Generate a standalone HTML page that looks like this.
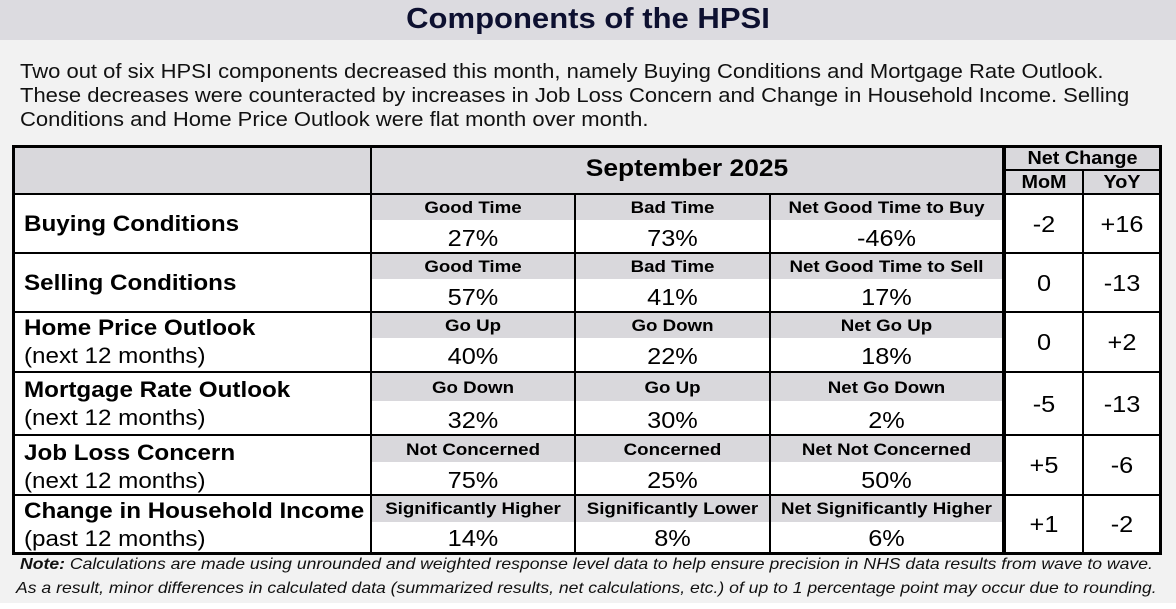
<!DOCTYPE html>
<html><head><meta charset="utf-8"><style>
body{margin:0;width:1176px;height:609px;background:#fff;font-family:"Liberation Sans",Arial,sans-serif;position:relative;overflow:hidden}
.a{position:absolute}
.bg{left:0;top:0;width:1176px;height:603px;background:#f2f2f2}
.tb{left:0;top:0;width:1176px;height:40px;background:#dcdbe0}
.t{left:0;top:3px;width:1176px;text-align:center;font-size:29px;font-weight:bold;color:#0d1030;transform:scaleX(1.07)}
.p{left:20px;top:60px;font-size:20px;line-height:24px;color:#111;transform:scaleX(1.1);transform-origin:left}
.h{background:#000}
.g{background:#d9d8dc}
.w{background:#fff}
.c{text-align:center;color:#000;transform:scaleX(1.1)}
.sl{font-size:17px;font-weight:bold;line-height:25px}
.v{font-size:23px;line-height:30px}
.lb{font-size:22px;font-weight:bold;left:24px;transform:scaleX(1.1);transform-origin:left}
.ls{font-size:22px;left:24px;transform:scaleX(1.1);transform-origin:left}
.n{font-size:16px;font-style:italic;left:20px;color:#111;transform:scaleX(1.1);transform-origin:left}
</style></head><body>
<div class="a bg"></div>
<div class="a tb"></div>
<div class="a t">Components of the HPSI</div>
<div class="a p">Two out of six HPSI components decreased this month, namely Buying Conditions and Mortgage Rate Outlook.<br>These decreases were counteracted by increases in Job Loss Concern and Change in Household Income. Selling<br>Conditions and Home Price Outlook were flat month over month.</div>

<div class="a w" style="left:12px;top:146px;width:1148px;height:407px"></div>
<div class="a g" style="left:12px;top:146px;width:1148px;height:48px"></div>
<div class="a g" style="left:371px;top:194px;width:632px;height:26px"></div>
<div class="a g" style="left:371px;top:253px;width:632px;height:26px"></div>
<div class="a g" style="left:371px;top:312px;width:632px;height:26px"></div>
<div class="a g" style="left:371px;top:372px;width:632px;height:29px"></div>
<div class="a g" style="left:371px;top:435px;width:632px;height:27px"></div>
<div class="a g" style="left:371px;top:495px;width:632px;height:27px"></div>

<div class="a h" style="left:12px;top:145px;width:1150px;height:3px"></div>
<div class="a h" style="left:12px;top:193px;width:1150px;height:2px"></div>
<div class="a h" style="left:12px;top:252px;width:1150px;height:2px"></div>
<div class="a h" style="left:12px;top:311px;width:1150px;height:2px"></div>
<div class="a h" style="left:12px;top:371px;width:1150px;height:2px"></div>
<div class="a h" style="left:12px;top:434px;width:1150px;height:2px"></div>
<div class="a h" style="left:12px;top:494px;width:1150px;height:2px"></div>
<div class="a h" style="left:12px;top:552px;width:1150px;height:3px"></div>
<div class="a h" style="left:1003px;top:169px;width:157px;height:2px"></div>
<div class="a h" style="left:12px;top:145px;width:3px;height:410px"></div>
<div class="a h" style="left:370px;top:145px;width:2px;height:410px"></div>
<div class="a h" style="left:574px;top:193px;width:2px;height:362px"></div>
<div class="a h" style="left:769px;top:193px;width:2px;height:362px"></div>
<div class="a h" style="left:1002px;top:145px;width:4px;height:410px"></div>
<div class="a h" style="left:1082px;top:169px;width:2px;height:386px"></div>
<div class="a h" style="left:1159px;top:145px;width:3px;height:410px"></div>

<div class="a c" style="left:372px;top:155px;width:630px;font-size:24px;font-weight:bold">September 2025</div>
<div class="a c" style="left:1005px;top:148px;width:155px;font-size:18px;font-weight:bold">Net Change</div>
<div class="a c" style="left:1005px;top:172px;width:78px;font-size:18px;font-weight:bold">MoM</div>
<div class="a c" style="left:1084px;top:172px;width:76px;font-size:18px;font-weight:bold">YoY</div>

<div class="a lb" style="top:211px">Buying Conditions</div>
<div class="a lb" style="top:270px">Selling Conditions</div>
<div class="a lb" style="top:315px">Home Price Outlook</div>
<div class="a ls" style="top:343px">(next 12 months)</div>
<div class="a lb" style="top:377px">Mortgage Rate Outlook</div>
<div class="a ls" style="top:405px">(next 12 months)</div>
<div class="a lb" style="top:440px">Job Loss Concern</div>
<div class="a ls" style="top:468px">(next 12 months)</div>
<div class="a lb" style="top:498px">Change in Household Income</div>
<div class="a ls" style="top:526px">(past 12 months)</div>

<div class="a c sl" style="left:372px;top:195px;width:202px">Good Time</div>
<div class="a c sl" style="left:576px;top:195px;width:193px">Bad Time</div>
<div class="a c sl" style="left:771px;top:195px;width:231px">Net Good Time to Buy</div>
<div class="a c v" style="left:372px;top:223px;width:202px">27%</div>
<div class="a c v" style="left:576px;top:223px;width:193px">73%</div>
<div class="a c v" style="left:771px;top:223px;width:231px">-46%</div>

<div class="a c sl" style="left:372px;top:254px;width:202px">Good Time</div>
<div class="a c sl" style="left:576px;top:254px;width:193px">Bad Time</div>
<div class="a c sl" style="left:771px;top:254px;width:231px">Net Good Time to Sell</div>
<div class="a c v" style="left:372px;top:282px;width:202px">57%</div>
<div class="a c v" style="left:576px;top:282px;width:193px">41%</div>
<div class="a c v" style="left:771px;top:282px;width:231px">17%</div>

<div class="a c sl" style="left:372px;top:313px;width:202px">Go Up</div>
<div class="a c sl" style="left:576px;top:313px;width:193px">Go Down</div>
<div class="a c sl" style="left:771px;top:313px;width:231px">Net Go Up</div>
<div class="a c v" style="left:372px;top:341px;width:202px">40%</div>
<div class="a c v" style="left:576px;top:341px;width:193px">22%</div>
<div class="a c v" style="left:771px;top:341px;width:231px">18%</div>

<div class="a c sl" style="left:372px;top:375px;width:202px">Go Down</div>
<div class="a c sl" style="left:576px;top:375px;width:193px">Go Up</div>
<div class="a c sl" style="left:771px;top:375px;width:231px">Net Go Down</div>
<div class="a c v" style="left:372px;top:405px;width:202px">32%</div>
<div class="a c v" style="left:576px;top:405px;width:193px">30%</div>
<div class="a c v" style="left:771px;top:405px;width:231px">2%</div>

<div class="a c sl" style="left:372px;top:437px;width:202px">Not Concerned</div>
<div class="a c sl" style="left:576px;top:437px;width:193px">Concerned</div>
<div class="a c sl" style="left:771px;top:437px;width:231px">Net Not Concerned</div>
<div class="a c v" style="left:372px;top:465px;width:202px">75%</div>
<div class="a c v" style="left:576px;top:465px;width:193px">25%</div>
<div class="a c v" style="left:771px;top:465px;width:231px">50%</div>

<div class="a c sl" style="left:372px;top:496px;width:202px">Significantly Higher</div>
<div class="a c sl" style="left:576px;top:496px;width:193px">Significantly Lower</div>
<div class="a c sl" style="left:771px;top:496px;width:231px">Net Significantly Higher</div>
<div class="a c v" style="left:372px;top:523px;width:202px">14%</div>
<div class="a c v" style="left:576px;top:523px;width:193px">8%</div>
<div class="a c v" style="left:771px;top:523px;width:231px">6%</div>

<div class="a c v" style="left:1005px;top:209px;width:78px">-2</div>
<div class="a c v" style="left:1084px;top:209px;width:76px">+16</div>
<div class="a c v" style="left:1005px;top:268px;width:78px">0</div>
<div class="a c v" style="left:1084px;top:268px;width:76px">-13</div>
<div class="a c v" style="left:1005px;top:327px;width:78px">0</div>
<div class="a c v" style="left:1084px;top:327px;width:76px">+2</div>
<div class="a c v" style="left:1005px;top:389px;width:78px">-5</div>
<div class="a c v" style="left:1084px;top:389px;width:76px">-13</div>
<div class="a c v" style="left:1005px;top:450px;width:78px">+5</div>
<div class="a c v" style="left:1084px;top:450px;width:76px">-6</div>
<div class="a c v" style="left:1005px;top:509px;width:78px">+1</div>
<div class="a c v" style="left:1084px;top:509px;width:76px">-2</div>

<div class="a n" style="top:556px"><b>Note:</b> Calculations are made using unrounded and weighted response level data to help ensure precision in NHS data results from wave to wave.</div>
<div class="a n" style="left:16px;top:580px">As a result, minor differences in calculated data (summarized results, net calculations, etc.) of up to 1 percentage point may occur due to rounding.</div>
</body></html>
